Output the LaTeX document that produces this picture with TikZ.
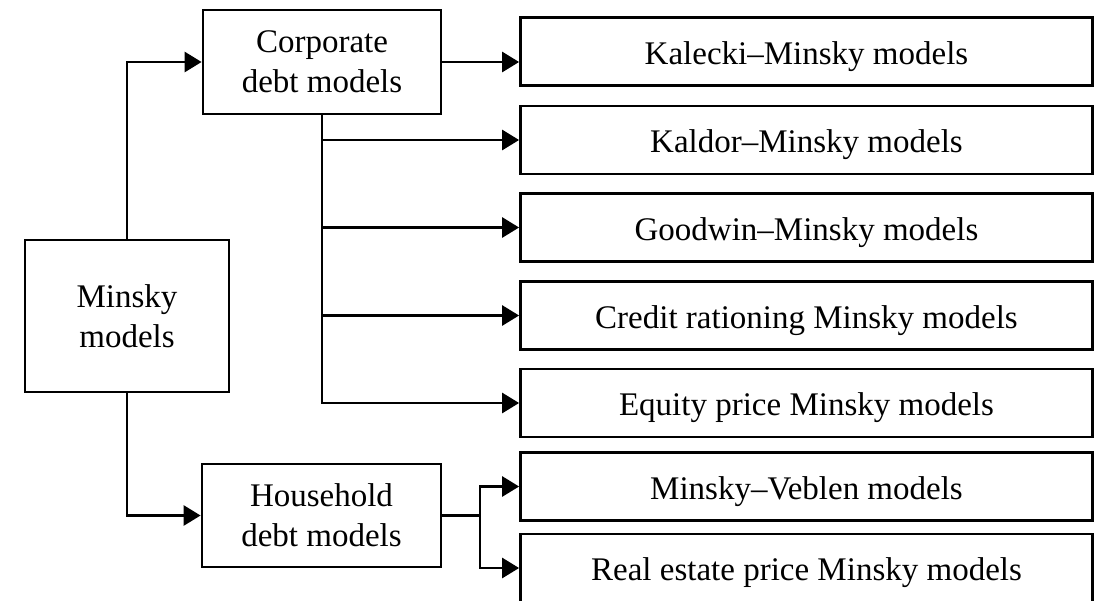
\documentclass[tikz,border=0pt]{standalone}
\usepackage{fontspec}
\setmainfont{Liberation Serif}
\usetikzlibrary{arrows.meta}
\tikzset{
  box/.style={draw, line width=1.4pt, inner sep=0pt, align=center,
    font=\fontsize{16.5pt}{20pt}\selectfont},
  leftbox/.style={box},
  rightbox/.style={box, minimum width=286pt, minimum height=34pt,
    text height=12.5pt, text depth=0pt},
  conn/.style={line width=1.4pt},
  arr/.style={conn, -{Triangle[length=8.5pt,width=10pt]}}
}
\begin{document}
\begin{tikzpicture}[x=0.5pt,y=-0.5pt]
\useasboundingbox (0,0) rectangle (1102,600);
\clip (0,0) rectangle (1102,600);
% left column
\node[leftbox, minimum width=102pt, minimum height=76pt] (minsky) at (127,316) {Minsky\\models};
\node[leftbox, minimum width=119pt, minimum height=52pt] (corp) at (322,62) {Corporate\\debt models};
\node[leftbox, minimum width=119.5pt, minimum height=51.5pt] (house) at (321.5,515.5) {Household\\debt models};
% right column
\node[rightbox] (kalecki) at (806.5,51.5) {Kalecki–Minsky models};
\node[rightbox] (kaldor) at (806.5,140) {Kaldor–Minsky models};
\node[rightbox] (goodwin) at (806.5,227.5) {Goodwin–Minsky models};
\node[rightbox] (credit) at (806.5,315.5) {Credit rationing Minsky models};
\node[rightbox] (equity) at (806.5,403) {Equity price Minsky models};
\node[rightbox] (veblen) at (806.5,486.5) {Minsky–Veblen models};
\node[rightbox] (realestate) at (806.5,568) {Real estate price Minsky models};
% connectors
\draw[arr] (minsky.north) |- (corp.west);
\draw[arr] (minsky.south) |- (house.west);
\draw[arr] (corp.east) -- (corp.east -| kalecki.west);
\draw[arr] (corp.south) |- (kaldor.west);
\draw[arr] (corp.south) |- (goodwin.west);
\draw[arr] (corp.south) |- (credit.west);
\draw[arr] (corp.south) |- (equity.west);
\coordinate (split) at (480,515.5);
\draw[conn] (house.east) -- (split);
\draw[arr] (split) |- (veblen.west);
\draw[arr] (split) |- (realestate.west);
\end{tikzpicture}
\end{document}
